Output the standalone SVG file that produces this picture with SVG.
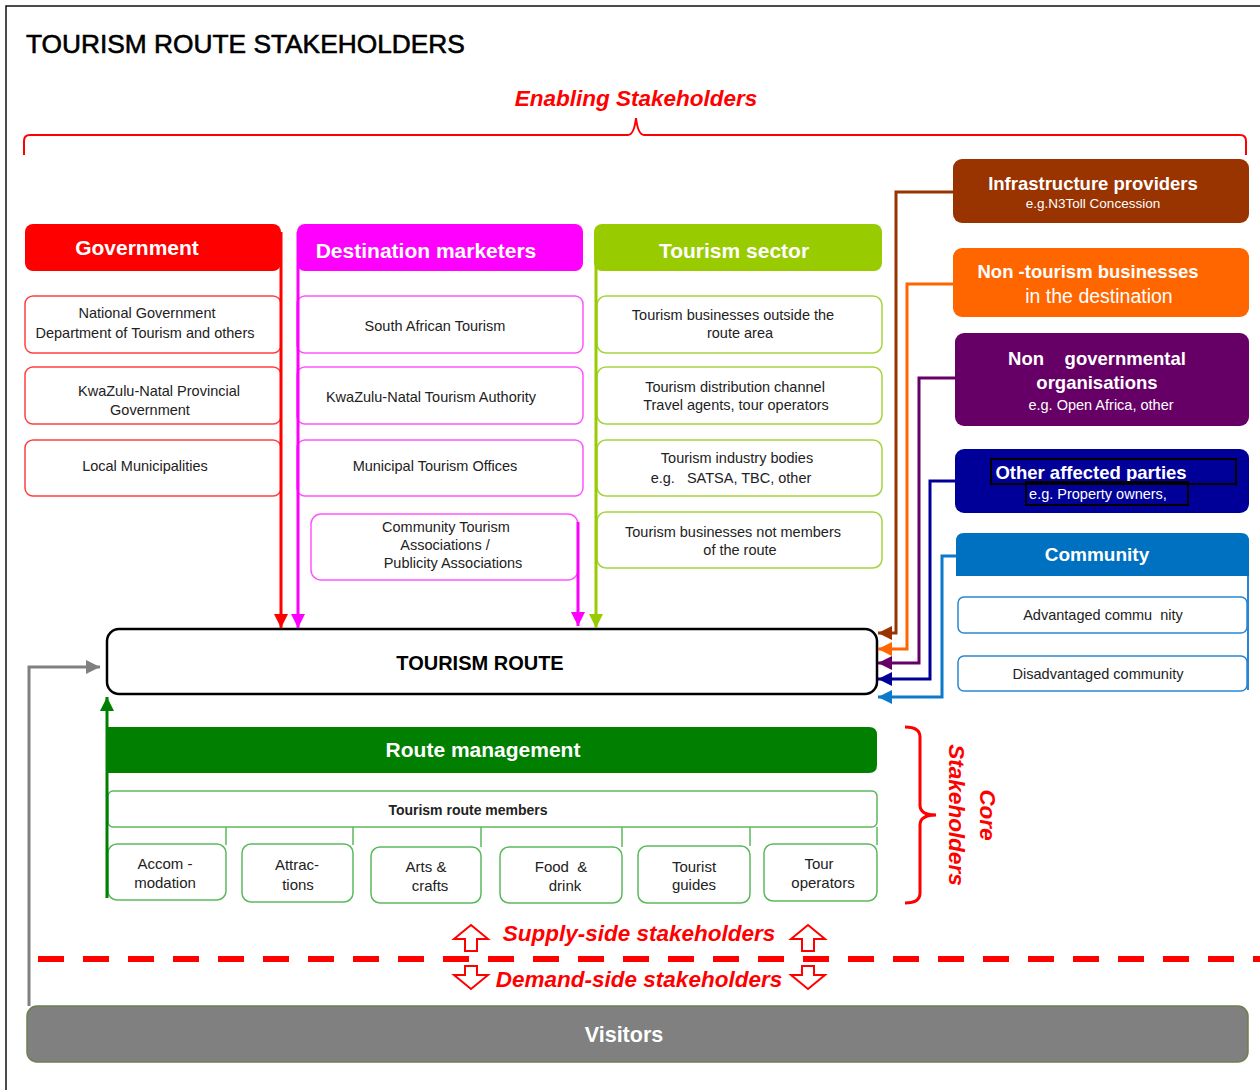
<svg xmlns="http://www.w3.org/2000/svg" width="1260" height="1090" viewBox="0 0 1260 1090">
<defs>
<style>
text{font-family:"Liberation Sans",Arial,sans-serif;}
.hdr{font-weight:bold;fill:#fff;text-anchor:middle;}
.sm{font-size:14.5px;fill:#222;text-anchor:middle;}
.bx{font-size:15px;fill:#222;text-anchor:middle;}
.red-i{font-weight:bold;font-style:italic;fill:#FF0000;font-size:22.5px;}
.gsub{fill:#fff;stroke:#FF4040;stroke-width:1.5;}
.msub{fill:#fff;stroke:#FF55FF;stroke-width:1.5;}
.tsub{fill:#fff;stroke:#A6D43F;stroke-width:1.5;}
.csub{fill:#fff;stroke:#2A86D2;stroke-width:1.5;}
.rsub{fill:#fff;stroke:#5CB85C;stroke-width:1.5;}
.conn{fill:none;stroke-width:3;}
.blk{fill:#fff;stroke:#FF0000;stroke-width:2;}
</style>
<marker id="a-red" viewBox="0 0 14 14" refX="14" refY="7" markerWidth="14" markerHeight="14" markerUnits="userSpaceOnUse" orient="auto"><path d="M0,0L14,7L0,14z" fill="#FF0000"/></marker>
<marker id="a-mag" viewBox="0 0 14 14" refX="14" refY="7" markerWidth="14" markerHeight="14" markerUnits="userSpaceOnUse" orient="auto"><path d="M0,0L14,7L0,14z" fill="#FF00FF"/></marker>
<marker id="a-lime" viewBox="0 0 14 14" refX="14" refY="7" markerWidth="14" markerHeight="14" markerUnits="userSpaceOnUse" orient="auto"><path d="M0,0L14,7L0,14z" fill="#99CC00"/></marker>
<marker id="a-brown" viewBox="0 0 14 14" refX="14" refY="7" markerWidth="14" markerHeight="14" markerUnits="userSpaceOnUse" orient="auto"><path d="M0,0L14,7L0,14z" fill="#993300"/></marker>
<marker id="a-orange" viewBox="0 0 14 14" refX="14" refY="7" markerWidth="14" markerHeight="14" markerUnits="userSpaceOnUse" orient="auto"><path d="M0,0L14,7L0,14z" fill="#FF6600"/></marker>
<marker id="a-purple" viewBox="0 0 14 14" refX="14" refY="7" markerWidth="14" markerHeight="14" markerUnits="userSpaceOnUse" orient="auto"><path d="M0,0L14,7L0,14z" fill="#660066"/></marker>
<marker id="a-navy" viewBox="0 0 14 14" refX="14" refY="7" markerWidth="14" markerHeight="14" markerUnits="userSpaceOnUse" orient="auto"><path d="M0,0L14,7L0,14z" fill="#000099"/></marker>
<marker id="a-blue" viewBox="0 0 14 14" refX="14" refY="7" markerWidth="14" markerHeight="14" markerUnits="userSpaceOnUse" orient="auto"><path d="M0,0L14,7L0,14z" fill="#0B79CC"/></marker>
<marker id="a-gray" viewBox="0 0 14 14" refX="14" refY="7" markerWidth="14" markerHeight="14" markerUnits="userSpaceOnUse" orient="auto"><path d="M0,0L14,7L0,14z" fill="#808080"/></marker>
<marker id="a-green" viewBox="0 0 14 14" refX="14" refY="7" markerWidth="14" markerHeight="14" markerUnits="userSpaceOnUse" orient="auto"><path d="M0,0L14,7L0,14z" fill="#007F00"/></marker>
</defs>
<rect width="1260" height="1090" fill="#fff"/>
<path d="M6,1090V6H1260" fill="none" stroke="#111" stroke-width="1.5"/>

<g id="title">
<text x="26" y="53" font-size="26.3" fill="#000" stroke="#000" stroke-width="0.6">TOURISM ROUTE STAKEHOLDERS</text>
</g>

<g id="enabling">
<text class="red-i" x="636" y="106" text-anchor="middle">Enabling Stakeholders</text>
<path d="M24,155V141Q24,135 30,135H628Q634,135 636,118Q638,135 644,135H1240Q1246,135 1246,141V155" fill="none" stroke="#FF0000" stroke-width="2"/>
</g>

<g id="government">
<rect x="25" y="224" width="256" height="47" rx="8" fill="#FF0000"/>
<text class="hdr" x="137" y="255" font-size="21">Government</text>
<rect class="gsub" x="25" y="296" width="256" height="57" rx="8"/>
<text class="sm" x="147" y="318">National Government</text>
<text class="sm" x="145" y="338">Department of Tourism and others</text>
<rect class="gsub" x="25" y="367" width="256" height="57" rx="8"/>
<text class="sm" x="159" y="396">KwaZulu-Natal Provincial</text>
<text class="sm" x="150" y="415">Government</text>
<rect class="gsub" x="25" y="440" width="256" height="56" rx="8"/>
<text class="sm" x="145" y="471">Local Municipalities</text>
</g>

<g id="destination-marketers">
<rect x="297" y="224" width="286" height="47" rx="8" fill="#FF00FF"/>
<text class="hdr" x="426" y="258" font-size="21">Destination marketers</text>
<rect class="msub" x="297" y="296" width="286" height="57" rx="8"/>
<text class="sm" x="435" y="331">South African Tourism</text>
<rect class="msub" x="297" y="367" width="286" height="57" rx="8"/>
<text class="sm" x="431" y="402">KwaZulu-Natal Tourism Authority</text>
<rect class="msub" x="297" y="440" width="286" height="56" rx="8"/>
<text class="sm" x="435" y="471">Municipal Tourism Offices</text>
<rect class="msub" x="311" y="514" width="267" height="66" rx="10"/>
<text class="sm" x="446" y="532">Community  Tourism</text>
<text class="sm" x="445" y="550">Associations /</text>
<text class="sm" x="453" y="568">Publicity Associations</text>
</g>

<g id="tourism-sector">
<rect x="594" y="224" width="288" height="47" rx="8" fill="#99CC00"/>
<text class="hdr" x="734" y="258" font-size="21">Tourism sector</text>
<rect class="tsub" x="597" y="296" width="285" height="57" rx="9"/>
<text class="sm" x="733" y="320">Tourism businesses outside the</text>
<text class="sm" x="740" y="338">route area</text>
<rect class="tsub" x="597" y="367" width="285" height="57" rx="9"/>
<text class="sm" x="735" y="392">Tourism distribution channel</text>
<text class="sm" x="736" y="410">Travel agents, tour operators</text>
<rect class="tsub" x="597" y="440" width="285" height="56" rx="9"/>
<text class="sm" x="737" y="463">Tourism industry bodies</text>
<text class="sm" x="731" y="483" style="white-space:pre">e.g.   SATSA, TBC, other</text>
<rect class="tsub" x="597" y="512" width="285" height="56" rx="9"/>
<text class="sm" x="733" y="537">Tourism businesses not members</text>
<text class="sm" x="740" y="555">of the route</text>
</g>

<g id="infrastructure-providers">
<rect x="953" y="159" width="296" height="64" rx="9" fill="#993300"/>
<text class="hdr" x="1093" y="190" font-size="18.5">Infrastructure providers</text>
<text x="1093" y="208" font-size="13.5" fill="#fff" text-anchor="middle">e.g.N3Toll Concession</text>
</g>

<g id="non-tourism-businesses">
<rect x="953" y="248" width="296" height="69" rx="9" fill="#FF6600"/>
<text class="hdr" x="1088" y="278" font-size="18.5">Non -tourism businesses</text>
<text x="1099" y="303" font-size="19.5" fill="#fff" text-anchor="middle">in the destination</text>
</g>

<g id="ngo">
<rect x="955" y="333" width="294" height="93" rx="9" fill="#660066"/>
<text class="hdr" x="1097" y="365" font-size="18.5" style="white-space:pre">Non    governmental</text>
<text class="hdr" x="1097" y="389" font-size="18.5">organisations</text>
<text x="1101" y="410" font-size="14.5" fill="#fff" text-anchor="middle">e.g. Open Africa, other</text>
</g>

<g id="other-affected-parties">
<rect x="955" y="449" width="294" height="64" rx="9" fill="#000099"/>
<text class="hdr" x="1091" y="479" font-size="18.5">Other affected parties</text>
<text x="1098" y="499" font-size="14.5" fill="#fff" text-anchor="middle">e.g. Property owners,</text>
<rect x="991" y="459" width="245" height="25" fill="none" stroke="#000" stroke-width="2"/>
<rect x="1026" y="482" width="162" height="23" fill="none" stroke="#000" stroke-width="2"/>
</g>

<g id="community">
<path d="M956,576V541Q956,533 964,533H1241Q1249,533 1249,541V576Z" fill="#0070C0"/>
<path d="M1248,576V690" fill="none" stroke="#2A86D2" stroke-width="2"/>
<text class="hdr" x="1097" y="561" font-size="19">Community</text>
<rect class="csub" x="958" y="597" width="289" height="36" rx="6"/>
<text class="sm" x="1103" y="620" style="white-space:pre">Advantaged commu  nity</text>
<rect class="csub" x="958" y="656" width="289" height="35" rx="6"/>
<text class="sm" x="1098" y="679">Disadvantaged community</text>
</g>

<g id="tourism-route">
<rect x="107" y="629" width="770" height="65" rx="12" fill="#fff" stroke="#000" stroke-width="2.5"/>
<text x="480" y="670" font-size="20" font-weight="bold" fill="#000" text-anchor="middle">TOURISM ROUTE</text>
</g>

<g id="route-management">
<path d="M107,727H869Q877,727 877,735V765Q877,773 869,773H107Z" fill="#007F00"/>
<text class="hdr" x="483" y="757" font-size="21">Route management</text>
<rect class="rsub" x="108" y="791" width="769" height="36" rx="5"/>
<text x="468" y="815" font-size="14" font-weight="bold" fill="#222" text-anchor="middle">Tourism route members</text>
<path d="M226,827V845M353,827V845M481,827V847M622,827V847M750,827V846M877,827V845" fill="none" stroke="#5CB85C" stroke-width="1.5"/>
</g>

<g id="accommodation">
<rect class="rsub" x="108" y="844" width="118" height="56" rx="9"/>
<text class="bx" x="165" y="869">Accom -</text>
<text class="bx" x="165" y="888">modation</text>
</g>
<g id="attractions">
<rect class="rsub" x="242" y="844" width="111" height="58" rx="9"/>
<text class="bx" x="297" y="870">Attrac-</text>
<text class="bx" x="298" y="890">tions</text>
</g>
<g id="arts-crafts">
<rect class="rsub" x="371" y="847" width="110" height="56" rx="9"/>
<text class="bx" x="426" y="872">Arts &amp;</text>
<text class="bx" x="430" y="891">crafts</text>
</g>
<g id="food-drink">
<rect class="rsub" x="500" y="847" width="122" height="56" rx="9"/>
<text class="bx" x="561" y="872" style="white-space:pre">Food  &amp;</text>
<text class="bx" x="565" y="891">drink</text>
</g>
<g id="tourist-guides">
<rect class="rsub" x="638" y="846" width="112" height="57" rx="9"/>
<text class="bx" x="694" y="872">Tourist</text>
<text class="bx" x="694" y="890">guides</text>
</g>
<g id="tour-operators">
<rect class="rsub" x="764" y="844" width="113" height="57" rx="9"/>
<text class="bx" x="819" y="869">Tour</text>
<text class="bx" x="823" y="888">operators</text>
</g>

<g id="core-stakeholders">
<path d="M905,727Q920,727 920,737V805Q920,815 936,815Q920,815 920,825V893Q920,903 905,903" fill="none" stroke="#FF0000" stroke-width="3"/>
<text class="red-i" transform="translate(980,815) rotate(90)" text-anchor="middle">Core</text>
<text class="red-i" transform="translate(949,815) rotate(90)" text-anchor="middle">Stakeholders</text>
</g>

<g id="supply-demand">
<path class="blk" d="M471,925L488,939H477V951H465V939H454Z"/>
<path class="blk" d="M808,925L825,939H814V951H802V939H791Z"/>
<text class="red-i" x="639" y="941" text-anchor="middle">Supply-side stakeholders</text>
<line x1="38" y1="959" x2="1260" y2="959" stroke="#FF0000" stroke-width="6" stroke-dasharray="26 19"/>
<path class="blk" d="M471,989L488,975H477V966H465V975H454Z"/>
<path class="blk" d="M808,989L825,975H814V966H802V975H791Z"/>
<text class="red-i" x="639" y="987" text-anchor="middle">Demand-side stakeholders</text>
</g>

<g id="visitors">
<rect x="27" y="1006" width="1221" height="56" rx="10" fill="#808080" stroke="#6E7F4F" stroke-width="1.5"/>
<text class="hdr" x="624" y="1042" font-size="21.5">Visitors</text>
</g>

<g id="connectors">
<path class="conn" stroke="#FF0000" d="M281,232V628" marker-end="url(#a-red)"/>
<path class="conn" stroke="#FF00FF" d="M298,232V628" marker-end="url(#a-mag)"/>
<path class="conn" stroke="#FF00FF" d="M578,522V626" marker-end="url(#a-mag)"/>
<path class="conn" stroke="#99CC00" d="M596,262V628" marker-end="url(#a-lime)"/>
<path class="conn" stroke="#993300" d="M953,192H896V633H878" marker-end="url(#a-brown)"/>
<path class="conn" stroke="#FF6600" d="M953,284H907V649H878" marker-end="url(#a-orange)"/>
<path class="conn" stroke="#660066" d="M955,378H919V663H878" marker-end="url(#a-purple)"/>
<path class="conn" stroke="#000099" d="M955,481H930V679H878" marker-end="url(#a-navy)"/>
<path class="conn" stroke="#0B79CC" d="M956,556H942V697H878" marker-end="url(#a-blue)"/>
<path class="conn" stroke="#808080" d="M29,1006V667H100" marker-end="url(#a-gray)"/>
<path class="conn" stroke="#007F00" d="M107,898V697" marker-end="url(#a-green)"/>
</g>
</svg>
